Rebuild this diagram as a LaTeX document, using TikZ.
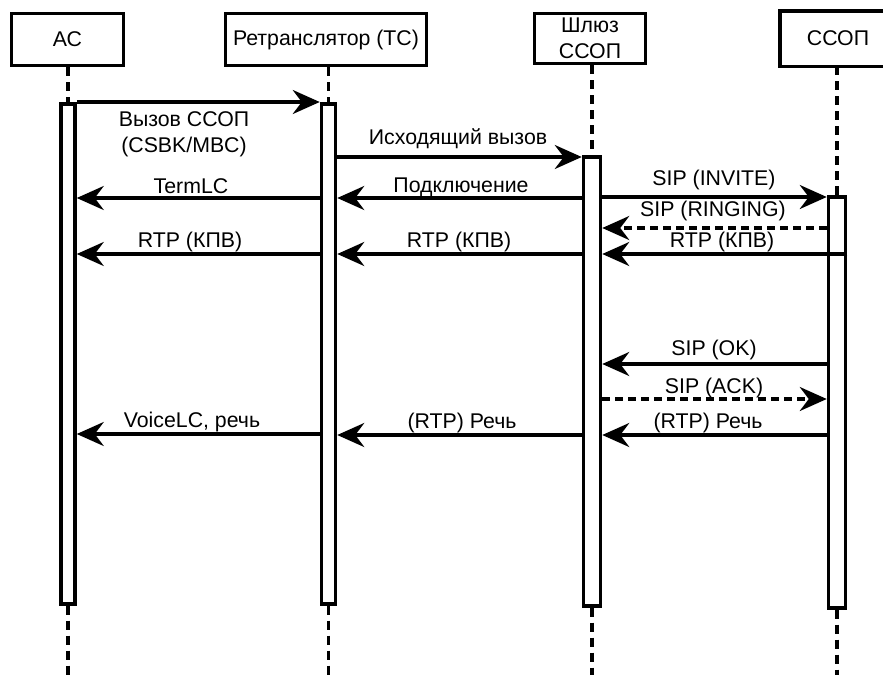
\documentclass[tikz,border=0pt]{standalone}
\usepackage{fontspec}
\setmainfont{Liberation Sans}
\usetikzlibrary{arrows.meta}
\begin{document}
\begin{tikzpicture}[x=1pt,y=-1pt,
  every node/.style={font=\fontsize{21.3}{26}\selectfont},
  actor/.style={draw, line width=3.5pt, inner sep=0pt, align=center},
  lifebar/.style={draw, line width=3.5pt, fill=white, inner sep=0pt, anchor=north},
  life/.style={line width=3.5pt, dash pattern=on 9pt off 6pt},
  msg/.style={line width=3.3pt, -{Stealth[length=27pt,width=24pt,inset=9pt]}},
  reply/.style={msg, dash pattern=on 8pt off 5pt},
  lbl/.style={anchor=base, inner sep=0pt}
]
\useasboundingbox (0,0) rectangle (883,675);
\clip (0,0) rectangle (883,675);
\coordinate (bot) at (0,675);

% actors
\node[actor, minimum width=112pt, minimum height=52pt] (A) at (67.5,39.5) {АС};
\node[actor, minimum width=201pt, minimum height=52pt] (R) at (326,39.5) {Ретранслятор (ТС)};
\node[actor, minimum width=111pt, minimum height=50pt] (G) at (590,38.5) {Шлюз\\ССОП};
\node[actor, draw=none, minimum width=113pt, minimum height=52pt] (S) at (838,38.5) {ССОП};
\draw[line width=3.5pt] (S.north east) -- (S.north west) -- (S.south west) -- (S.south east);

% activation bars
\node[lifebar, minimum width=14pt, minimum height=500pt] (bA) at (68,102) {};
\node[lifebar, minimum width=14pt, minimum height=500pt] (bR) at (328.5,102) {};
\node[lifebar, minimum width=17pt, minimum height=449pt] (bG) at (592,155) {};
\node[lifebar, minimum width=17pt, minimum height=411pt] (bS) at (837,195) {};

% lifelines
\draw[life] (bA.north |- A.south) -- (bA.north);
\draw[life] (bA.south) -- (bA.south |- bot);
\draw[life] (bR.north |- R.south) -- (bR.north);
\draw[life] (bR.south) -- (bR.south |- bot);
\draw[life] (bG.north |- G.south) -- (bG.north);
\draw[life] (bG.south) -- (bG.south |- bot);
\draw[life] (bS.north |- S.south) -- (bS.north);
\draw[life] (bS.south) -- (bS.south |- bot);

% messages
\draw[msg] (bA.north east) -- (bR.north west);
\node[align=center, inner sep=0pt] (l1) at (184,134) {Вызов ССОП\\(CSBK/MBC)};

\draw[msg] (bR.east |- 0,157) -- (bG.west |- 0,157);
\node[lbl] (l2) at (458,144) {Исходящий вызов};

\draw[msg] (bR.west |- 0,198) -- (bA.east |- 0,198);
\node[lbl] (l3) at (191,193) {TermLC};

\draw[msg] (bG.west |- 0,198) -- (bR.east |- 0,198);
\node[lbl] (l4) at (461,192) {Подключение};

\draw[msg] (bG.east |- 0,197) -- (bS.west |- 0,197);
\node[lbl] (l5) at (714,185) {SIP (INVITE)};

\draw[reply] (bS.west |- 0,228) -- (bG.east |- 0,228);
\node[lbl] (l6) at (713,216) {SIP (RINGING)};

\draw[msg] (bR.west |- 0,254) -- (bA.east |- 0,254);
\node[lbl] (l7) at (190,247) {RTP (КПВ)};
\draw[msg] (bG.west |- 0,254) -- (bR.east |- 0,254);
\node[lbl] (l8) at (459,247) {RTP (КПВ)};
\draw[msg] (bS.east |- 0,254) -- (bG.east |- 0,254);
\node[lbl] (l9) at (722,247) {RTP (КПВ)};

\draw[msg] (bS.west |- 0,364) -- (bG.east |- 0,364);
\node[lbl] (l10) at (714,355) {SIP (OK)};

\draw[reply] (bG.east |- 0,399) -- (bS.west |- 0,399);
\node[lbl] (l11) at (714,393) {SIP (ACK)};

\draw[msg] (bS.west |- 0,435) -- (bG.east |- 0,435);
\node[lbl] (l12) at (708,428) {(RTP) Речь};
\draw[msg] (bG.west |- 0,435) -- (bR.east |- 0,435);
\node[lbl] (l13) at (462,428) {(RTP) Речь};
\draw[msg] (bR.west |- 0,434) -- (bA.east |- 0,434);
\node[lbl] (l14) at (192,427) {VoiceLC, речь};
\end{tikzpicture}
\end{document}
